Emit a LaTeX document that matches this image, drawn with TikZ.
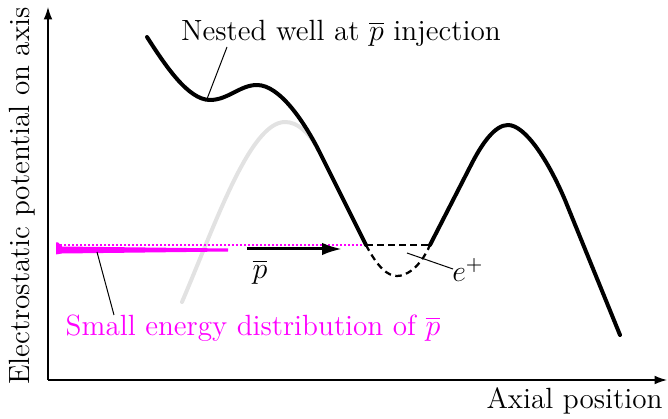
\documentclass[tikz,border=0pt]{standalone}
\usetikzlibrary{arrows.meta}
\definecolor{mag}{RGB}{255,0,255}
\definecolor{lgray}{RGB}{226,226,226}
\begin{document}
\begin{tikzpicture}[x=0.4pt,y=-0.4pt,
  lbl/.style={font=\fontsize{11.7}{14}\selectfont, inner sep=0pt},
  pot/.style={line width=1.6pt, line join=round},
  note/.style={line width=0.4pt},
  wellstyle/.style={line width=0.9pt, dash pattern=on 2.6pt off 1.8pt},
  axis/.style={line width=0.5pt, -{Latex[length=5pt,width=3.5pt]}}]
\useasboundingbox (0,0) rectangle (668,419);
% axes
\coordinate (O) at (48,380);
\coordinate (Ytop) at (48,7);
\coordinate (Xend) at (667,380);
\draw[axis] (O) -- (Ytop);
\draw[axis] (O) -- (Xend);
\node[lbl, rotate=90] (ylab) at (22,196) {Electrostatic potential on axis};
\node[lbl, anchor=east] (xlab) at (663,401) {Axial position};
% gray curve
\draw[line width=1.6pt, lgray, line cap=round] (182,302) .. controls (215,225) and (250,122) .. (285,122)
  .. controls (298,122) and (308,133) .. (316,145);
% magenta distribution
\fill[mag] (56,242.5) -- (58,242.5) -- (62,246.5) -- (228,248.5) -- (228,251.5) -- (62,253.5) -- (56,254.5) -- cycle;
\draw[mag, line width=0.8pt, dash pattern=on 0.8pt off 0.8pt] (56,245) -- (366,245);
% main black curve
\draw[pot, line cap=round] (147,37) .. controls (165,65) and (188,100) .. (210,100)
  .. controls (228,100) and (240,85) .. (257,85)
  .. controls (280,85) and (305,123) .. (320,153) -- (366,245);
\draw[pot, line cap=round] (430,245) -- (470,167) .. controls (482,143) and (495,125) .. (508,125)
  .. controls (525,125) and (548,160) .. (565,200) -- (620,335);
% dashed well
\draw[wellstyle] (366,245) -- (430,245);
\draw[wellstyle] (366,245) .. controls (378,268) and (388,276) .. (397,276)
  .. controls (406,276) and (420,268) .. (430,245);
% pbar arrow
\coordinate (pa) at (247,249);
\coordinate (pb) at (342,249);
\draw[line width=1.2pt, -{Latex[length=8pt,width=5pt]}] (pa) -- (pb);
\node[lbl] (pbar) at (260,272) {$\overline{p}$};
% labels
\node[lbl] (nested) at (341,33) {Nested well at $\overline{p}$ injection};
\coordinate (nestA) at (227,47);
\coordinate (nestB) at (207,99);
\draw[note] (nestA) -- (nestB);
\node[lbl] (epos) at (468,270) {$e^+$};
\coordinate (eA) at (407,253);
\coordinate (eB) at (453,269);
\draw[note] (eA) -- (eB);
\node[lbl, text=mag] (small) at (253,328) {Small energy distribution of $\overline{p}$};
\coordinate (sA) at (97,252);
\coordinate (sB) at (114,315);
\draw[note] (sA) -- (sB);
\end{tikzpicture}
\end{document}
